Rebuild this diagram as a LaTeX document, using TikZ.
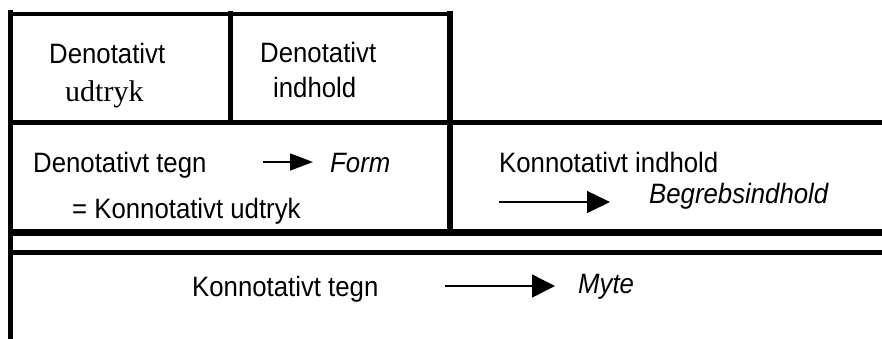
\documentclass[tikz,border=0pt]{standalone}
\usepackage{fontspec}
\setmainfont[FakeStretch=0.92]{Liberation Sans}
\newfontfamily\serifudtryk{Liberation Serif}
\usetikzlibrary{arrows.meta}

\tikzset{
  rule/.style={line width=#1, line cap=rect},
  lbl/.style={anchor=base west, inner sep=0pt, font=\fontsize{28}{32}\selectfont},
  ilbl/.style={lbl, font=\fontsize{28}{32}\selectfont\itshape},
  bigarrow/.style={line width=1.4pt, -{Triangle[length=23pt, width=#1]}},
}

\begin{document}
\begin{tikzpicture}[x=1pt, y=-1pt]
  \useasboundingbox (0,0) rectangle (882,338);

  % frame of the two-level sign table
  \draw[rule=5pt] (10.5,12) -- (10.5,338);
  \draw[rule=4pt] (10.5,13.5) -- (450,13.5);
  \draw[rule=5pt] (230.5,13.5) -- (230.5,122.5);
  \draw[rule=6pt] (450,13.5) -- (450,232.5);
  \draw[line width=5.5pt] (10.5,122.5) -- (882,122.5);
  \draw[line width=7pt] (10.5,232.5) -- (882,232.5);
  \draw[line width=4.5pt] (10.5,252.5) -- (882,252.5);

  % denotative level
  \node[lbl] (du1) at (49,63) {Denotativt};
  \node[lbl, font=\fontsize{30}{34}\selectfont\serifudtryk] (du2) at (65,101) {udtryk};
  \node[lbl] (di1) at (260,62) {Denotativt};
  \node[lbl] (di2) at (273,97) {indhold};

  % denotative sign = connotative expression
  \node[lbl] (dtegn) at (33,172) {Denotativt tegn};
  \node[ilbl] (form) at (330,172) {Form};
  \node[lbl] (kudtr) at (72,218) {= Konnotativt udtryk};
  \coordinate (formA) at (263,162);
  \coordinate (formB) at (313,162);
  \draw[bigarrow=17pt] (formA) -- (formB);

  % connotative content
  \node[lbl] (kindh) at (499,172) {Konnotativt indhold};
  \node[ilbl] (begreb) at (649,203) {Begrebsindhold};
  \coordinate (begA) at (499,202);
  \coordinate (begB) at (610,202);
  \draw[bigarrow=22pt] (begA) -- (begB);

  % connotative sign
  \node[lbl] (ktegn) at (192,296) {Konnotativt tegn};
  \node[ilbl] (myte) at (578,293) {Myte};
  \coordinate (myA) at (445,286);
  \coordinate (myB) at (555,286);
  \draw[bigarrow=23pt] (myA) -- (myB);
\end{tikzpicture}
\end{document}
